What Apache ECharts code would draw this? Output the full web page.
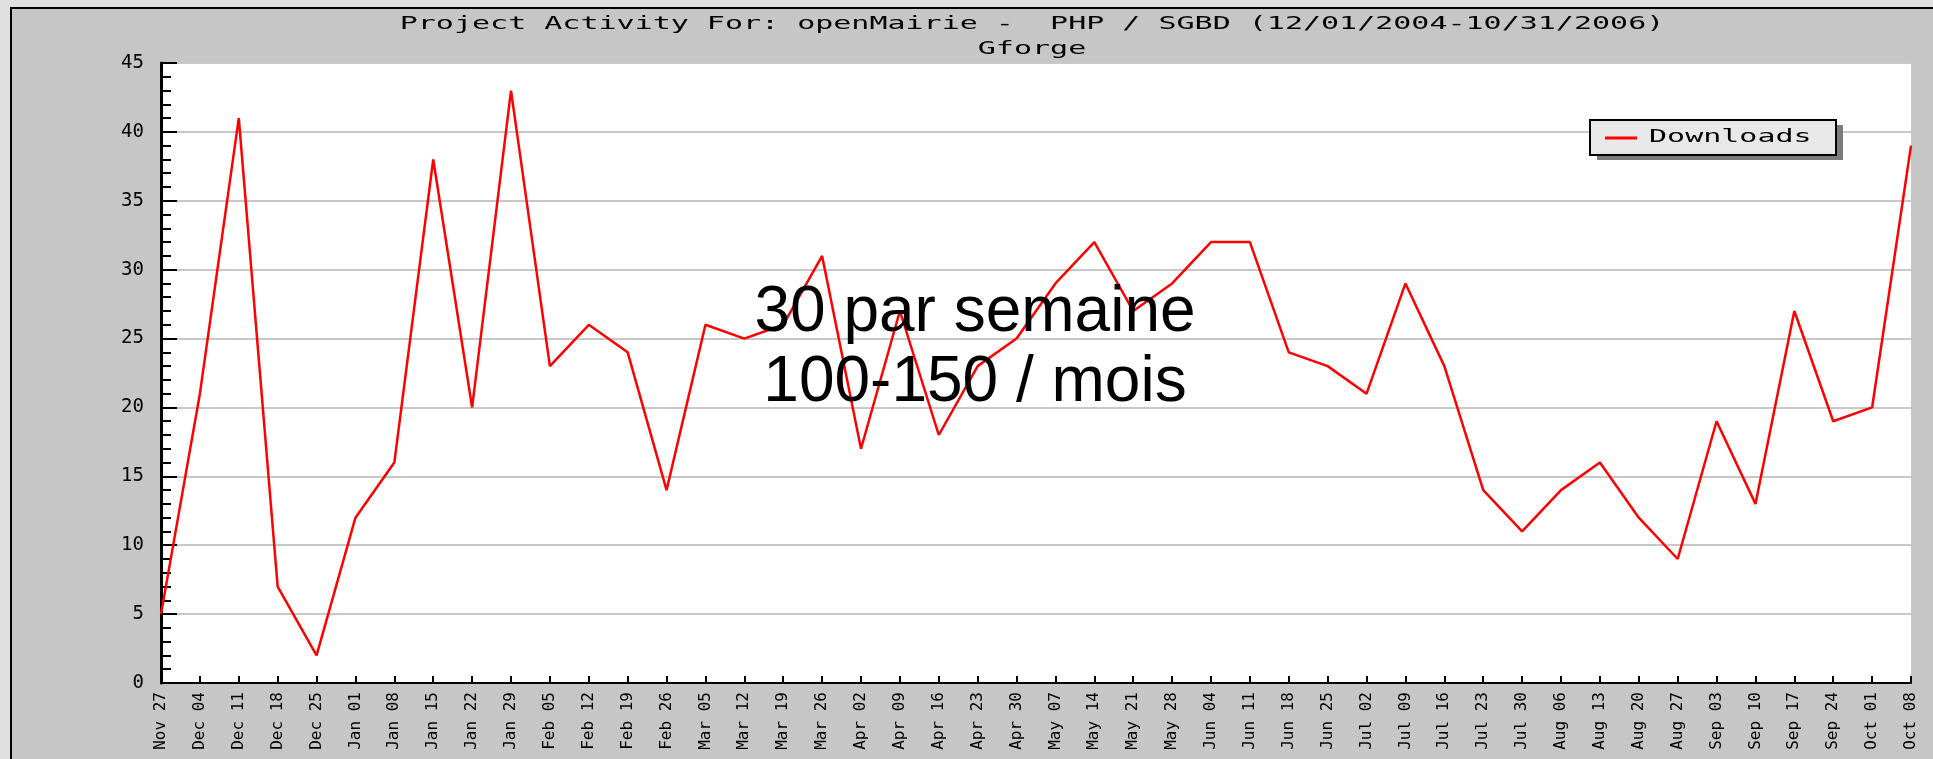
<!DOCTYPE html>
<html>
<head>
<meta charset="utf-8">
<title>Project Activity - openMairie</title>
<script src="https://cdn.jsdelivr.net/npm/echarts@6/dist/echarts.min.js"></script>
<style>
html, body { margin:0; padding:0; background:#e0e0e0; overflow:hidden; }
#frame { position:absolute; left:10px; top:7px; width:1960px; height:800px; background:#c6c6c6; border:2px solid #000; box-sizing:border-box; }
#chart { position:absolute; left:0; top:0; width:1933px; height:759px; }
</style>
</head>
<body>
<div id="frame"></div>
<div id="chart"></div>
<script>
// weekly download counts, Gforge project stats
var weeks = ['Nov 27','Dec 04','Dec 11','Dec 18','Dec 25','Jan 01','Jan 08','Jan 15','Jan 22','Jan 29',
    'Feb 05','Feb 12','Feb 19','Feb 26','Mar 05','Mar 12','Mar 19','Mar 26','Apr 02','Apr 09',
    'Apr 16','Apr 23','Apr 30','May 07','May 14','May 21','May 28','Jun 04','Jun 11','Jun 18',
    'Jun 25','Jul 02','Jul 09','Jul 16','Jul 23','Jul 30','Aug 06','Aug 13','Aug 20','Aug 27',
    'Sep 03','Sep 10','Sep 17','Sep 24','Oct 01','Oct 08'];
var downloads = [5,21,41,7,2,12,16,38,20,43,
    23,26,24,14,26,25,26,31,17,27,
    18,23,25,29,32,27,29,32,32,24,
    23,21,29,23,14,11,14,16,12,9,
    19,13,27,19,20,39];
var yMin = 0, yMax = 45, yStep = 5;

var titleLine1 = 'Project Activity For: openMairie -  PHP / SGBD (12/01/2004-10/31/2006)';
var titleLine2 = 'Gforge';
var seriesName = 'Downloads';
var note1 = '30 par semaine';
var note2 = '100-150 / mois';

var monoFont = '"DejaVu Sans Mono", monospace';

var chart = echarts.init(document.getElementById('chart'));
var option = {
    animation: false,
    grid: {
        left: 161,
        right: 22,
        top: 63,
        bottom: 76,
        show: true,
        backgroundColor: '#ffffff',
        borderWidth: 0
    },
    xAxis: {
        type: 'category',
        data: weeks,
        boundaryGap: false,
        axisLine: { lineStyle: { color: '#000', width: 2 } },
        axisTick: { inside: true, length: 7, interval: 0, lineStyle: { color: '#000', width: 2 } },
        axisLabel: { rotate: 90, interval: 0, margin: 9, color: '#000', fontFamily: monoFont, fontSize: 16 },
        splitLine: { show: false }
    },
    yAxis: {
        type: 'value',
        min: yMin,
        max: yMax,
        interval: yStep,
        axisLine: { show: true, lineStyle: { color: '#000', width: 3 } },
        axisTick: { show: true, inside: true, length: 16, lineStyle: { color: '#000', width: 2 } },
        minorTick: { show: true, splitNumber: 5, length: 10, lineStyle: { color: '#000', width: 2 } },
        axisLabel: { margin: 17, color: '#000', fontFamily: monoFont, fontSize: 19 },
        splitLine: { lineStyle: { color: '#c8c8c8', width: 2 } }
    },
    series: [{
        name: seriesName,
        type: 'line',
        data: downloads,
        symbol: 'none',
        lineStyle: { color: '#ff0000', width: 2.5 },
        itemStyle: { color: '#ff0000' },
        z: 3
    }],
    graphic: [
        {
            type: 'text', x: 1032, y: 25, scaleX: 1.765, z: 50,
            style: { text: titleLine1, font: '17px ' + monoFont, fill: '#000',
                align: 'center', verticalAlign: 'middle', textAlign: 'center', textVerticalAlign: 'middle' }
        },
        {
            type: 'text', x: 1032, y: 50, scaleX: 1.765, z: 50,
            style: { text: titleLine2, font: '17px ' + monoFont, fill: '#000',
                align: 'center', verticalAlign: 'middle', textAlign: 'center', textVerticalAlign: 'middle' }
        },
        // legend box (drawn by hand to get the wide old-style font)
        {
            type: 'rect', z: 60,
            shape: { x: 1597, y: 125, width: 246, height: 35 },
            style: { fill: '#7c7c7c' }
        },
        {
            type: 'rect', z: 61,
            shape: { x: 1590, y: 120, width: 246, height: 35 },
            style: { fill: '#e8e8e8', stroke: '#000', lineWidth: 2 }
        },
        {
            type: 'line', z: 62,
            shape: { x1: 1605, y1: 138, x2: 1637, y2: 138 },
            style: { stroke: '#ff0000', lineWidth: 3 }
        },
        {
            type: 'text', x: 1649, y: 138, scaleX: 1.765, z: 62,
            style: { text: seriesName, font: '17px ' + monoFont, fill: '#000',
                align: 'left', verticalAlign: 'middle', textAlign: 'left', textVerticalAlign: 'middle' }
        },
        // note written over the chart
        {
            type: 'text', x: 975, y: 313, z: 100,
            style: { text: note1, font: '64px "Liberation Sans", Arial, sans-serif', fill: '#000',
                align: 'center', verticalAlign: 'middle', textAlign: 'center', textVerticalAlign: 'middle' }
        },
        {
            type: 'text', x: 975, y: 383, z: 100,
            style: { text: note2, font: '64px "Liberation Sans", Arial, sans-serif', fill: '#000',
                align: 'center', verticalAlign: 'middle', textAlign: 'center', textVerticalAlign: 'middle' }
        }
    ]
};
chart.setOption(option);
</script>
</body>
</html>
